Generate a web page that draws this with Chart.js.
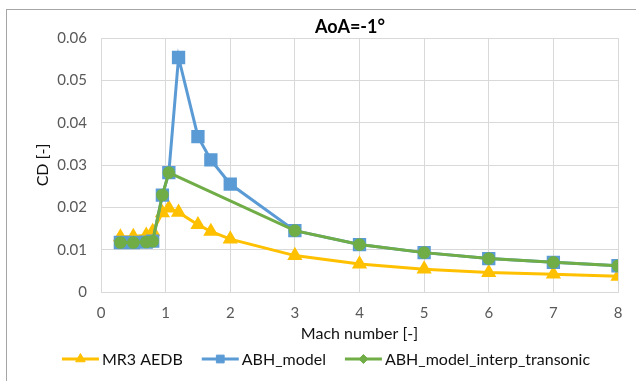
<!DOCTYPE html>
<html>
<head>
<meta charset="utf-8">
<script src="https://cdn.jsdelivr.net/npm/chart.js@4.4.1/dist/chart.umd.min.js"></script>
<style>
  html, body { margin: 0; padding: 0; background: #fff; overflow: hidden; }
  #frame { position: absolute; left: 6px; top: 9px; width: 700px; height: 400px;
           border-left: 1px solid #a6a6a6; border-top: 1px solid #a6a6a6; }
  #chart { position: absolute; left: 6px; top: 0; }
</style>
</head>
<body>
<div id="frame"></div>
<canvas id="chart" width="640" height="381"></canvas>
<script>
var chartTitle = 'AoA=-1°';

var mr3Mach = [0.3, 0.5, 0.7, 0.8, 0.95, 1.05, 1.2, 1.5, 1.7, 2, 3, 4, 5, 6, 7, 8];
var mr3CD = [0.0130, 0.0131, 0.0134, 0.0143, 0.0187, 0.0198, 0.0188, 0.0159, 0.0143, 0.0125, 0.0086, 0.0066, 0.0054, 0.0046, 0.0042, 0.0037];

var abhMach = [0.3, 0.5, 0.7, 0.8, 0.95, 1.05, 1.2, 1.5, 1.7, 2, 3, 4, 5, 6, 7, 8];
var abhCD = [0.0117, 0.0117, 0.0118, 0.0120, 0.0229, 0.0282, 0.0554, 0.0367, 0.0312, 0.0255, 0.0145, 0.0112, 0.0093, 0.0079, 0.0070, 0.0062];

var interpMach = [0.3, 0.5, 0.7, 0.8, 0.95, 1.05, 3, 4, 5, 6, 7, 8];
var interpCD = [0.0117, 0.0117, 0.0118, 0.0120, 0.0229, 0.0282, 0.0145, 0.0112, 0.0093, 0.0079, 0.0070, 0.0062];

var xTickLabels = ['0', '1', '2', '3', '4', '5', '6', '7', '8'];
var yTickLabels = ['0', '0.01', '0.02', '0.03', '0.04', '0.05', '0.06'];

function toPoints(xs, ys) {
	var pts = [];
	for (i = 0; i < xs.length; i++) {
		pts.push({x: xs[i], y: ys[i]});
	}
	return pts;
}

// little markers for the legend, same style as in the plot
var legendMarks = [
	{pointStyle: 'triangle', radius: 5.5},
	{pointStyle: 'rect', radius: 5.5},
	{pointStyle: 'rectRot', radius: 4.5}
];

var overlay = {
	id: 'overlay',
	afterDraw: function(chart) {
		var ctx = chart.ctx;
		ctx.save();
		// title
		ctx.fillStyle = '#000';
		ctx.font = 'bold 18px Lato';
		ctx.textAlign = 'center';
		ctx.textBaseline = 'alphabetic';
		ctx.fillText(chartTitle, 344, 33);

		// legend along the bottom
		ctx.font = '16px Lato';
		ctx.textAlign = 'left';
		ctx.textBaseline = 'middle';
		var sets = chart.data.datasets;
		var lineLen = 37, gap = 3, sep = 19;
		var total = 0;
		var widths = sets.map(function(d) { return ctx.measureText(d.label).width; });
		widths.forEach(function(w) { total += lineLen + gap + w; });
		total += sep * (sets.length - 1);
		var x = chart.width / 2 - total / 2;
		var y = 359;
		sets.forEach(function(d, i) {
			ctx.strokeStyle = d.borderColor;
			ctx.fillStyle = d.pointBackgroundColor;
			ctx.lineWidth = 3;
			ctx.beginPath();
			ctx.moveTo(x, y);
			ctx.lineTo(x + lineLen, y);
			ctx.stroke();
			ctx.lineWidth = 1;
			Chart.helpers.drawPoint(ctx, {pointStyle: legendMarks[i].pointStyle, radius: legendMarks[i].radius, rotation: 0, borderWidth: 1}, x + lineLen / 2, y);
			ctx.fillStyle = '#111';
			ctx.fillText(d.label, x + lineLen + gap, y + 1);
			x += lineLen + gap + widths[i] + sep;
		});
		ctx.restore();
	}
};

var ctx = document.getElementById('chart');
var myChart = new Chart(ctx, {
	type: 'line',
	data: {
		datasets: [{
			label: 'MR3 AEDB',
			data: toPoints(mr3Mach, mr3CD),
			borderColor: '#FFC000',
			backgroundColor: '#FFC000',
			pointBackgroundColor: '#FFC000',
			pointBorderColor: '#FFC000',
			pointStyle: 'triangle',
			pointRadius: 5.8,
			borderWidth: 3,
			order: 3
		}, {
			label: 'ABH_model',
			data: toPoints(abhMach, abhCD),
			borderColor: '#5B9BD5',
			backgroundColor: '#5B9BD5',
			pointBackgroundColor: '#5B9BD5',
			pointBorderColor: '#5B9BD5',
			pointStyle: 'rect',
			pointRadius: 7.3,
			borderWidth: 3,
			order: 2
		}, {
			label: 'ABH_model_interp_transonic',
			data: toPoints(interpMach, interpCD),
			borderColor: '#70AD47',
			backgroundColor: '#70AD47',
			pointBackgroundColor: '#70AD47',
			pointBorderColor: '#70AD47',
			pointStyle: 'circle',
			pointRadius: 4.8,
			borderWidth: 3,
			order: 1
		}]
	},
	options: {
		responsive: false,
		animation: false,
		layout: {padding: {left: 0, right: 28, top: 38, bottom: 0}},
		plugins: {
			legend: {display: false},
			title: {display: false},
			tooltip: {enabled: false}
		},
		scales: {
			x: {
				type: 'linear',
				min: 0,
				max: 8,
				afterFit: function(s) { s.height = 89; },
				ticks: {
					stepSize: 1,
					padding: 12,
					color: '#595959',
					font: {family: 'Lato', size: 15},
					callback: function(v, i) { return xTickLabels[i]; }
				},
				grid: {color: '#d9d9d9', drawTicks: false},
				border: {color: '#d9d9d9'},
				title: {
					display: true,
					text: 'Mach number [-]',
					color: '#111',
					font: {family: 'Lato', size: 16},
					padding: {top: 0, bottom: 38}
				}
			},
			y: {
				min: 0,
				max: 0.06,
				afterFit: function(s) { s.width = 95; },
				ticks: {
					stepSize: 0.01,
					padding: 14,
					color: '#595959',
					font: {family: 'Lato', size: 15},
					callback: function(v, i) { return yTickLabels[i]; }
				},
				grid: {color: '#d9d9d9', drawTicks: false},
				border: {color: '#d9d9d9'},
				title: {
					display: true,
					text: 'CD [-]',
					color: '#111',
					font: {family: 'Lato', size: 16},
					padding: {top: 27, bottom: 0}
				}
			}
		}
	},
	plugins: [overlay]
});
</script>
</body>
</html>
